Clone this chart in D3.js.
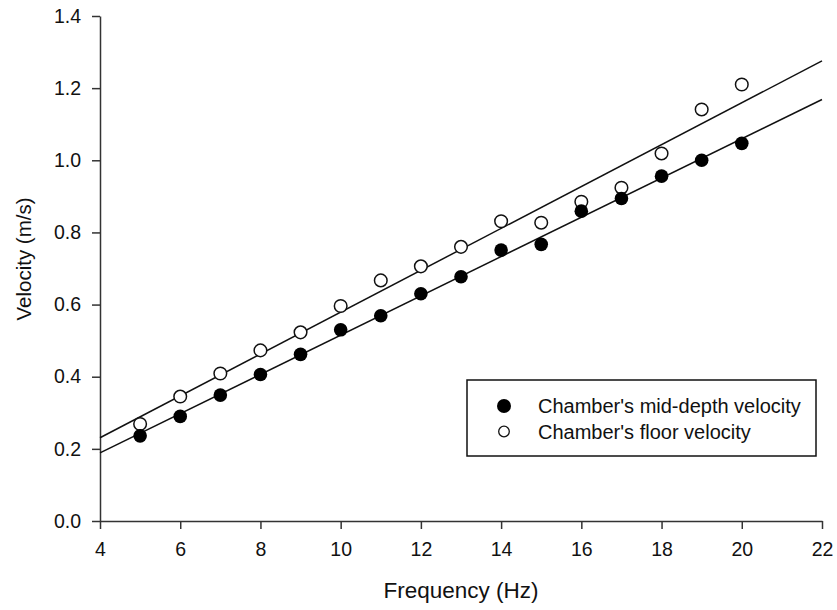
<!DOCTYPE html>
<html lang="en">
<head>
  <meta charset="UTF-8">
  <title>Velocity vs Frequency</title>
  <script src="https://d3js.org/d3.v7.min.js"></script>
  <style>
    body { margin: 0; background: #fff; font-family: Arial, "Liberation Sans", sans-serif; }
    .axis path, .axis line { stroke: #333; stroke-width: 1.5; }
    .axis text { fill: #111; font-size: 19.5px; font-family: Arial, "Liberation Sans", sans-serif; }
  </style>
</head>
<body>
<svg id="chart" width="837" height="610"></svg>
<script>
// Data
const freq = [5, 6, 7, 8, 9, 10, 11, 12, 13, 14, 15, 16, 17, 18, 19, 20];
const midDepth = [0.236, 0.290, 0.349, 0.406, 0.462, 0.530, 0.569, 0.630, 0.677, 0.751, 0.767, 0.859, 0.894, 0.956, 1.000, 1.047];
const floorVel = [0.269, 0.345, 0.409, 0.473, 0.523, 0.596, 0.667, 0.706, 0.760, 0.831, 0.827, 0.885, 0.924, 1.019, 1.141, 1.210];
const xTicks = [4, 6, 8, 10, 12, 14, 16, 18, 20, 22];
const yTicks = [0.0, 0.2, 0.4, 0.6, 0.8, 1.0, 1.2, 1.4];
const seriesNames = ["Chamber's mid-depth velocity", "Chamber's floor velocity"];

const width = 837, height = 610;
const margin = { top: 16, right: 15, bottom: 89, left: 100 };

const x = d3.scaleLinear().domain([4, 22]).range([margin.left, width - margin.right]);
const y = d3.scaleLinear().domain([0, 1.4]).range([height - margin.bottom, margin.top]);

const svg = d3.select('#chart');

// Axes
svg.append('g').attr('class', 'axis')
  .attr('transform', `translate(0,${y(0)})`)
  .call(d3.axisBottom(x).tickValues(xTicks).tickSize(8).tickSizeOuter(0).tickPadding(13).tickFormat(d3.format('d')));
svg.append('g').attr('class', 'axis')
  .attr('transform', `translate(${x(4)},0)`)
  .call(d3.axisLeft(y).tickValues(yTicks).tickSize(8).tickSizeOuter(0).tickPadding(11).tickFormat(d3.format('.1f')));

// Axis titles
svg.append('text')
  .attr('x', 461).attr('y', 598)
  .attr('text-anchor', 'middle').attr('font-size', 22.5).attr('fill', '#111')
  .text('Frequency (Hz)');
svg.append('text')
  .attr('transform', 'translate(31,259) rotate(-90)')
  .attr('text-anchor', 'middle').attr('font-size', 20.5).attr('fill', '#111')
  .text('Velocity (m/s)');

// Linear regression
function fit(xs, ys) {
  const mx = d3.mean(xs), my = d3.mean(ys);
  let sxy = 0, sxx = 0;
  xs.forEach((v, i) => { sxy += (v - mx) * (ys[i] - my); sxx += (v - mx) * (v - mx); });
  const b = sxy / sxx;
  return { b, a: my - b * mx };
}

const lineGen = d3.line().x(d => x(d[0])).y(d => y(d[1]));
[midDepth, floorVel].forEach(vals => {
  const f = fit(freq, vals);
  const dom = x.domain();
  svg.append('path')
    .attr('d', lineGen(dom.map(v => [v, f.a + f.b * v])))
    .attr('fill', 'none').attr('stroke', '#111').attr('stroke-width', 1.5);
});

// Points
svg.append('g').selectAll('circle').data(freq).join('circle')
  .attr('cx', d => x(d)).attr('cy', (d, i) => y(floorVel[i])).attr('r', 6.3)
  .attr('fill', '#fff').attr('stroke', '#111').attr('stroke-width', 1.5);
svg.append('g').selectAll('circle').data(freq).join('circle')
  .attr('cx', d => x(d)).attr('cy', (d, i) => y(midDepth[i])).attr('r', 6.8)
  .attr('fill', '#000');

// Legend
const lg = svg.append('g');
lg.append('rect').attr('x', 467).attr('y', 380).attr('width', 349).attr('height', 76)
  .attr('fill', '#fff').attr('stroke', '#111').attr('stroke-width', 1.5);
seriesNames.forEach((name, i) => {
  const cy = 406 + i * 25.5;
  lg.append('circle').attr('cx', 504).attr('cy', cy).attr('r', i === 0 ? 7 : 5.3)
    .attr('fill', i === 0 ? '#000' : '#fff').attr('stroke', '#111').attr('stroke-width', i === 0 ? 0 : 1.3);
  lg.append('text').attr('x', 538).attr('y', cy).attr('dy', '0.35em')
    .attr('font-size', 20).attr('fill', '#111').text(name);
});
</script>
</body>
</html>
